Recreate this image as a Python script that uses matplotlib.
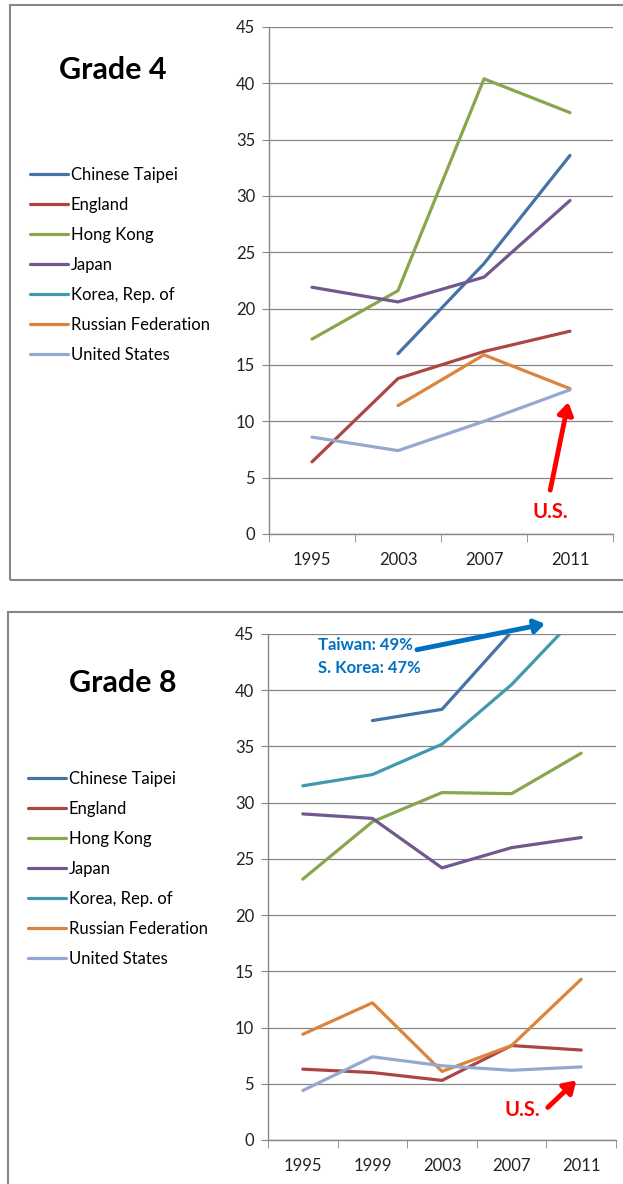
import numpy as np
import matplotlib.pyplot as plt
from matplotlib.patches import Rectangle

plt.rcParams['font.family'] = ['Lato', 'DejaVu Sans']

# Данные: доля учеников на продвинутом уровне (%)
COUNTRIES = ["Chinese Taipei", "England", "Hong Kong", "Japan",
             "Korea, Rep. of", "Russian Federation", "United States"]
COLORS = ["#4572A7", "#AA4643", "#89A54E", "#71588F",
          "#4198AF", "#DB843D", "#93A9CF"]
nan = np.nan

YEARS_G4 = ["1995", "2003", "2007", "2011"]
taipei_g4 = [nan, 16.0, 24.0, 33.6]
england_g4 = [6.4, 13.8, 16.2, 18.0]
hongkong_g4 = [17.3, 21.6, 40.4, 37.4]
japan_g4 = [21.9, 20.6, 22.8, 29.6]
korea_g4 = [nan, nan, nan, nan]
russia_g4 = [nan, 11.4, 15.9, 12.9]
us_g4 = [8.6, 7.4, 10.0, 12.8]

YEARS_G8 = ["1995", "1999", "2003", "2007", "2011"]
taipei_g8 = [nan, 37.3, 38.3, 45.2, 49.0]
england_g8 = [6.3, 6.0, 5.3, 8.4, 8.0]
hongkong_g8 = [23.2, 28.3, 30.9, 30.8, 34.4]
japan_g8 = [29.0, 28.6, 24.2, 26.0, 26.9]
korea_g8 = [31.5, 32.5, 35.2, 40.5, 47.0]
russia_g8 = [9.4, 12.2, 6.1, 8.4, 14.3]
us_g8 = [4.4, 7.4, 6.6, 6.2, 6.5]

G4 = [taipei_g4, england_g4, hongkong_g4, japan_g4, korea_g4, russia_g4, us_g4]
G8 = [taipei_g8, england_g8, hongkong_g8, japan_g8, korea_g8, russia_g8, us_g8]

W, H = 623, 1184
fig = plt.figure(figsize=(W / 100, H / 100), dpi=100)

GRID = "#868686"


def px_box(x0, y0, x1, y1):
    return [x0 / W, 1 - y1 / H, (x1 - x0) / W, (y1 - y0) / H]


def draw_panel(rect, years, series, title, title_xy, legend_xy):
    ax = fig.add_axes(rect)
    x = np.arange(len(years))
    handles = []
    for vals, name, col in zip(series, COUNTRIES, COLORS):
        ln, = ax.plot(x, vals, color=col, lw=2.3, label=name, solid_capstyle='round')
        handles.append(ln)
    ax.set_xlim(-0.5, len(years) - 0.5)
    ax.set_ylim(0, 45)
    ax.set_yticks(range(0, 46, 5))
    ax.set_xticks(x)
    ax.set_xticklabels(years)
    ax.set_xticks(np.arange(-0.5, len(years)), minor=True)
    ax.tick_params(axis='x', which='major', length=0, pad=13, labelsize=12, colors='#222222')
    ax.tick_params(axis='x', which='minor', length=6, color=GRID)
    ax.tick_params(axis='y', length=5, color=GRID, labelsize=12, labelcolor='#222222', pad=5)
    ax.grid(axis='y', color=GRID, lw=0.9)
    ax.set_axisbelow(True)
    for s in ['top', 'right']:
        ax.spines[s].set_visible(False)
    for s in ['left', 'bottom']:
        ax.spines[s].set_color(GRID)
        ax.spines[s].set_linewidth(1.0)
    fig.text(title_xy[0] / W, 1 - title_xy[1] / H, title, fontsize=22, fontweight='bold',
             ha='center', va='center')
    fig.legend(handles=handles, loc='upper left',
               bbox_to_anchor=(legend_xy[0] / W, 1 - legend_xy[1] / H),
               bbox_transform=fig.transFigure, frameon=False, fontsize=12,
               handlelength=2.3, handletextpad=0.15, labelspacing=0.84,
               borderpad=0, borderaxespad=0)
    return ax


# рамки панелей
fig.patches.append(Rectangle((10 / W, 1 - 580 / H), 640 / W, 575 / H,
                             transform=fig.transFigure, fill=False, ec=GRID, lw=1.5))
fig.patches.append(Rectangle((8 / W, -0.05), 640 / W, 1 - 612 / H + 0.05,
                             transform=fig.transFigure, fill=False, ec=GRID, lw=1.5))

ax4 = draw_panel(px_box(269, 27, 613, 534), YEARS_G4, G4, "Grade 4", (113, 70), (30, 167))
ax8 = draw_panel(px_box(268, 634, 616, 1140), YEARS_G8, G8, "Grade 8", (123, 683), (28, 771))

# подписи U.S.
red_arrow = dict(arrowstyle='-|>,head_length=0.7,head_width=0.45', color='red', lw=3.5,
                 shrinkA=0, shrinkB=0)
ax4.annotate("", xy=(2.98, 11.7), xytext=(2.77, 3.9), arrowprops=red_arrow)
ax4.text(2.77, 1.95, "U.S.", color='red', fontsize=14.5, fontweight='bold', ha='center', va='center')
ax8.annotate("", xy=(3.93, 5.3), xytext=(3.52, 2.9), arrowprops=red_arrow)
ax8.text(3.16, 2.7, "U.S.", color='red', fontsize=14.5, fontweight='bold', ha='center', va='center')

# Тайвань и Корея выше шкалы
blue = "#0070C0"
ax8.annotate("", xy=(3.48, 45.9), xytext=(1.64, 43.6), annotation_clip=False,
             arrowprops=dict(arrowstyle='-|>,head_length=0.6,head_width=0.4', color=blue,
                             lw=3.5, shrinkA=0, shrinkB=0))
ax8.text(0.22, 44.0, "Taiwan: 49%", color=blue, fontsize=12, fontweight='bold', ha='left', va='center')
ax8.text(0.22, 42.0, "S. Korea: 47%", color=blue, fontsize=12, fontweight='bold', ha='left', va='center')

fig.savefig("out.png", dpi=100)
